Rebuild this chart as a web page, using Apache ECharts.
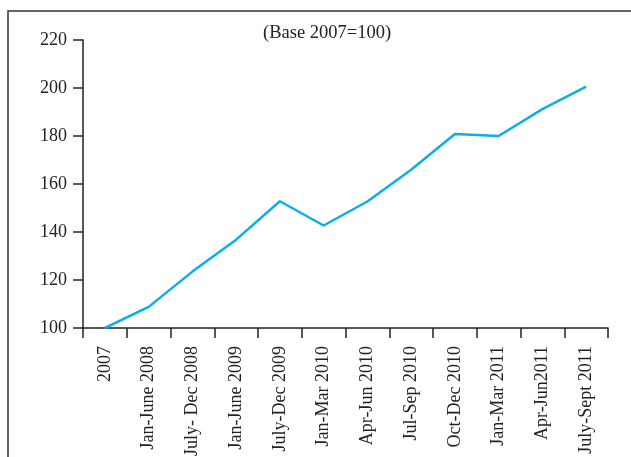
<!DOCTYPE html>
<html>
<head>
<meta charset="utf-8">
<script src="https://cdn.jsdelivr.net/npm/echarts@6/dist/echarts.min.js"></script>
<style>
html,body{margin:0;padding:0;background:#fff;}
#c{width:631px;height:457px;}
</style>
</head>
<body>
<div id="c"></div>
<script>
const categories = ["2007","Jan-June 2008","July- Dec 2008","Jan-June 2009","July-Dec 2009","Jan-Mar 2010","Apr-Jun 2010","Jul-Sep 2010","Oct-Dec 2010","Jan-Mar 2011","Apr-Jun2011","July-Sept 2011"];
const indexValues = [100, 108.8, 123.5, 136.8, 152.8, 142.7, 152.7, 165.9, 180.8, 180.0, 191.2, 200.6];
const yTicks = {min: 100, max: 220, step: 20};
const subtitle = "(Base 2007=100)";

const chart = echarts.init(document.getElementById('c'), null, {renderer: 'canvas'});
const font = "'Liberation Serif', 'DejaVu Serif', serif";
chart.setOption({
  animation: false,
  backgroundColor: '#fff',
  graphic: [
    {type: 'rect', shape: {x: 8, y: 11, width: 640, height: 460}, style: {fill: 'none', stroke: '#333', lineWidth: 1.5}, silent: true},
    {type: 'text', left: 263, top: 24, style: {text: subtitle, font: "18.5px " + font, fill: '#222'}}
  ],
  grid: {left: 83, right: 23, top: 40, bottom: 129, containLabel: false, outerBoundsMode: 'none'},
  xAxis: {
    type: 'category',
    data: categories,
    boundaryGap: true,
    axisLine: {lineStyle: {color: '#222', width: 1.5}},
    axisTick: {show: true, length: 10, lineStyle: {color: '#222', width: 1.5}},
    axisLabel: {rotate: 90, interval: 0, margin: 18, color: '#222', fontFamily: font, fontSize: 18}
  },
  yAxis: {
    type: 'value',
    min: yTicks.min, max: yTicks.max, interval: yTicks.step,
    axisLine: {show: true, lineStyle: {color: '#222', width: 1.5}},
    axisTick: {show: true, length: 10, lineStyle: {color: '#222', width: 1.5}},
    splitLine: {show: false},
    axisLabel: {margin: 16, color: '#222', fontFamily: font, fontSize: 18}
  },
  series: [{
    type: 'line',
    data: indexValues,
    symbol: 'none',
    lineStyle: {color: '#0AAEEA', width: 2.5},
    itemStyle: {color: '#0AAEEA'}
  }]
});
</script>
</body>
</html>
